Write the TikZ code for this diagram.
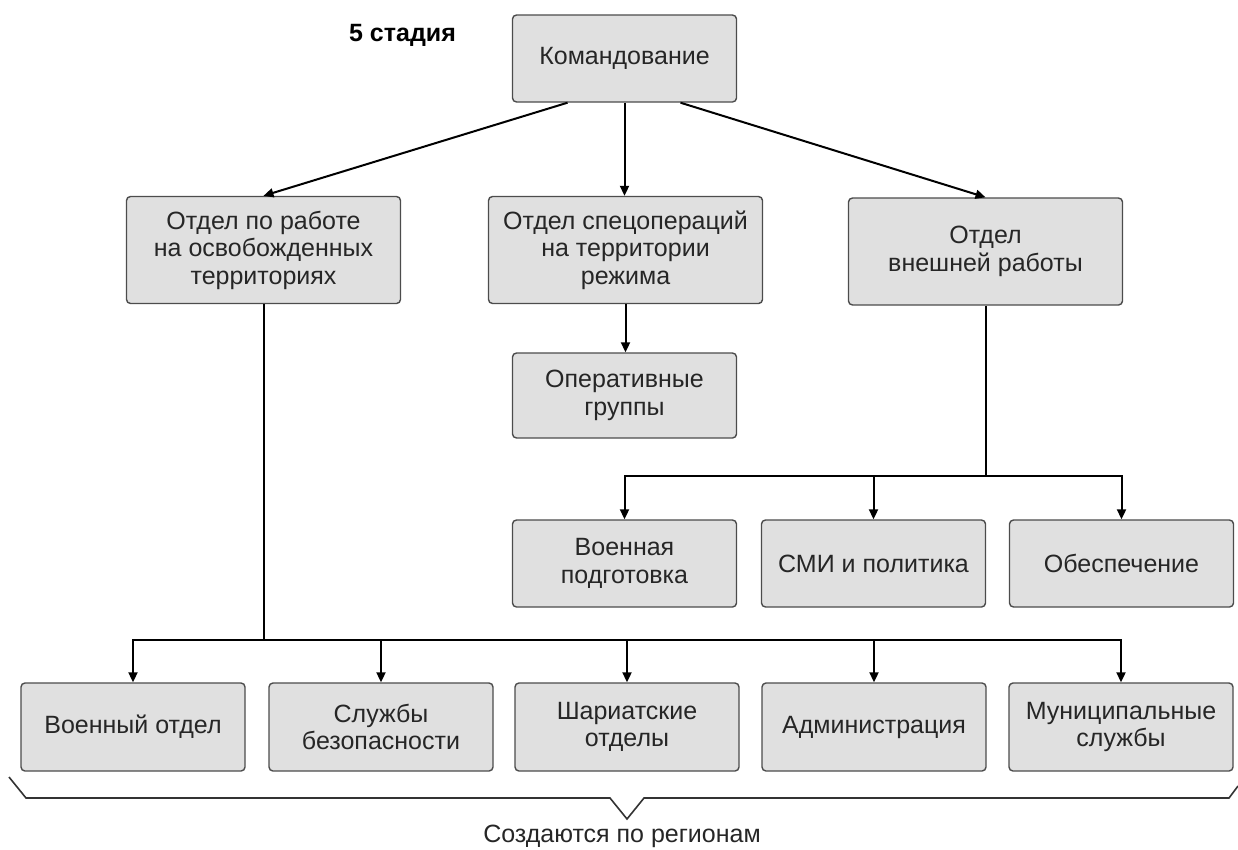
\documentclass[tikz,border=0pt]{standalone}
\usepackage{fontspec}
\setmainfont{Liberation Sans}
\usetikzlibrary{arrows.meta}

\tikzset{
  box/.style={draw=black!70, line width=1.4pt, fill=black!12, rounded corners=4pt,
    align=center, inner sep=0pt, text=black!85, font=\fontsize{25}{27.5}\selectfont},
  small/.style={box, minimum width=224pt, minimum height=87pt},
  big/.style={box, minimum width=274pt, minimum height=107pt},
  conn/.style={line width=2pt, -{Triangle[length=10pt,width=9pt]}},
  link/.style={line width=2pt},
}

\begin{document}
\begin{tikzpicture}[x=1pt,y=-1pt]
    \useasboundingbox (0,0) rectangle (1238,849);

    \node[anchor=base, font=\fontsize{25}{27}\selectfont\bfseries] (stage) at (402.5,41) {5 стадия};
    \node[small] (cmd) at (624.5,58.5) {Командование};

    \node[big] (otdA) at (263.5,250) {Отдел по работе\\на освобожденных\\территориях};
    \node[big] (otdB) at (625.5,250) {Отдел спецопераций\\на территории\\режима};
    \node[big] (otdC) at (985.5,251.5) {Отдел\\внешней работы};

    \node[small, minimum height=85pt] (oper) at (624.5,395.5) {Оперативные\\группы};

    \node[small] (voenPod) at (624.5,563.5) {Военная\\подготовка};
    \node[small] (smi) at (873.5,563.5) {СМИ и политика};
    \node[small] (obesp) at (1121.5,563.5) {Обеспечение};

    \node[small, minimum height=88pt] (voen) at (133,727) {Военный отдел};
    \node[small, minimum height=88pt] (sluzh) at (381,727) {Службы\\безопасности};
    \node[small, minimum height=88pt] (shar) at (627,727) {Шариатские\\отделы};
    \node[small, minimum height=88pt] (admin) at (874,727) {Администрация};
    \node[small, minimum height=88pt] (munic) at (1121,727) {Муниципальные\\службы};

    \draw[conn] (cmd.south) ++(-57,0) -- (otdA.north);
    \draw[conn] (cmd.south) -- (cmd.south |- otdB.north);
    \draw[conn] (cmd.south) ++(56,0) -- (otdC.north);
    \draw[conn] (otdB.south) -- (otdB.south |- oper.north);

    \coordinate (hubC) at (985.5,476);
    \draw[link] (otdC.south) -- (hubC);
    \draw[conn] (hubC) -| (voenPod.north);
    \draw[conn] (hubC) -| (smi.north);
    \draw[conn] (hubC) -| (obesp.north);

    \coordinate (hubA) at (263.5,640);
    \draw[link] (otdA.south) -- (hubA);
    \draw[conn] (hubA) -| (voen.north);
    \draw[conn] (hubA) -| (sluzh.north);
    \draw[conn] (hubA) -| (shar.north);
    \draw[conn] (hubA) -| (admin.north);
    \draw[conn] (hubA) -| (munic.north);

    \draw[line width=1.6pt, black!80] (9,777) -- (26,798) -- (610,798) -- (627,819)
        -- (644,798) -- (1229,798) -- (1238,786);
    \node[anchor=base, text=black!85, font=\fontsize{25}{27}\selectfont] (regions) at (622,842) {Создаются по регионам};
\end{tikzpicture}
\end{document}
